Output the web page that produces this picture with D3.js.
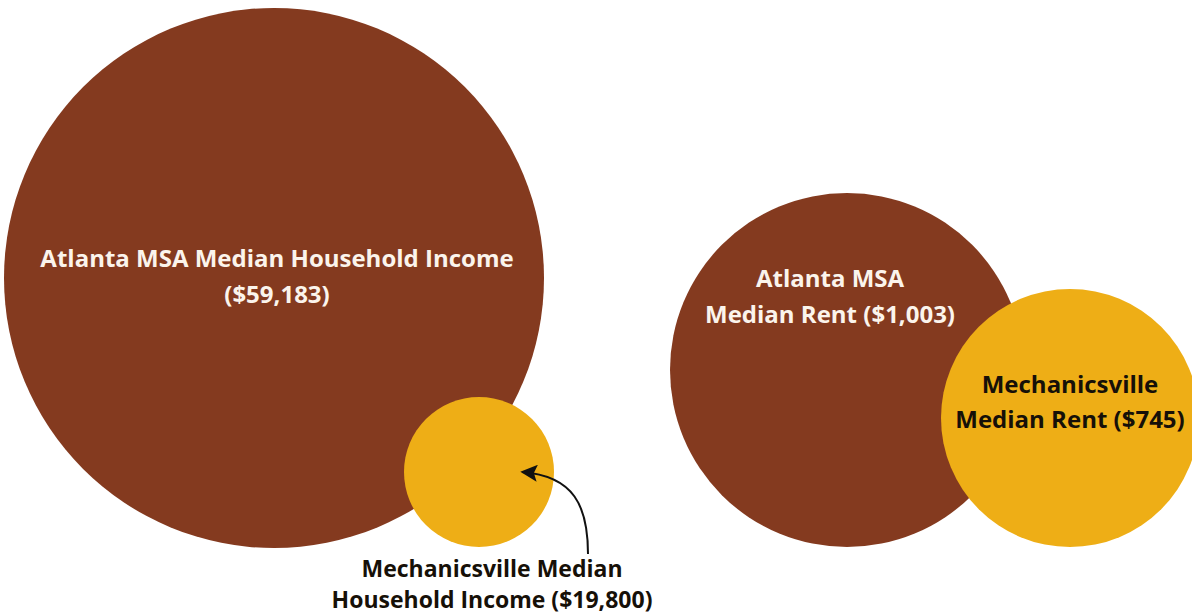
<!DOCTYPE html>
<html>
<head>
<meta charset="utf-8">
<script src="https://cdn.jsdelivr.net/npm/d3@7"></script>
<style>
  body { margin: 0; background: #fff; }
  svg { display: block; }
  .lbl { font-family: "Open Sans", sans-serif; font-weight: 700; text-anchor: middle; font-size: 24px; }
</style>
</head>
<body>
<div id="chart"></div>
<script>
// Data
var groups = ["Median Household Income", "Median Rent"];
var places = ["Atlanta MSA", "Mechanicsville"];
var incomeValues = [59183, 19800];
var rentValues = [1003, 745];
var incomeLabels = [
  ["Atlanta MSA Median Household Income", "($59,183)"],
  ["Mechanicsville Median", "Household Income ($19,800)"]
];
var rentLabels = [
  ["Atlanta MSA", "Median Rent ($1,003)"],
  ["Mechanicsville", "Median Rent ($745)"]
];

var width = 1192, height = 616;
var brown = "#843a1f", gold = "#eeae16";
var light = "#fbf4ec", dark = "#161008";

var svg = d3.select("#chart").append("svg")
  .attr("width", width)
  .attr("height", height);

// arrow head marker
svg.append("defs").append("marker")
  .attr("id", "head")
  .attr("viewBox", "0 0 10 10")
  .attr("refX", 9).attr("refY", 5)
  .attr("markerWidth", 17).attr("markerHeight", 17)
  .attr("markerUnits", "userSpaceOnUse")
  .attr("orient", "auto")
  .append("path")
  .attr("d", "M0,0 L10,5 L0,10 L2,5 Z")
  .attr("fill", "#111");

// radius scales, one per panel
var rIncome = d3.scaleLinear().domain(d3.extent(incomeValues)).range([75, 270]);
var rRent = d3.scaleLinear().domain(d3.extent(rentValues)).range([129, 177]);

function twoLines(g, lines, x, y, dy, fill, size) {
  lines.forEach(function(t, i) {
    var txt = g.append("text").attr("class", "lbl")
      .attr("x", x).attr("y", y + i * dy)
      .attr("fill", fill)
      .text(t);
    if (size) txt.style("font-size", size + "px");
  });
}

// ---- Panel 1: income ----
var p1 = svg.append("g").attr("class", "income");
var c1 = [274, 278];
var c1s = [479, 472];

p1.append("circle")
  .attr("cx", c1[0]).attr("cy", c1[1]).attr("r", rIncome(incomeValues[0]))
  .attr("fill", brown);
p1.append("circle")
  .attr("cx", c1s[0]).attr("cy", c1s[1]).attr("r", rIncome(incomeValues[1]))
  .attr("fill", gold);

twoLines(p1, incomeLabels[0], 277, 267, 36, light);
// callout text under the small circle
twoLines(p1, incomeLabels[1], 492, 577, 31, dark, 23);

// curved arrow pointing into small circle
var arrow = d3.path();
arrow.moveTo(588, 554);
arrow.bezierCurveTo(588, 506, 574, 476, 522, 472);
p1.append("path")
  .attr("d", arrow.toString())
  .attr("fill", "none")
  .attr("stroke", "#111")
  .attr("stroke-width", 2)
  .attr("marker-end", "url(#head)");

// ---- Panel 2: rent ----
var p2 = svg.append("g").attr("class", "rent");
var c2 = [847, 370];
var c2s = [1070, 418];

p2.append("circle")
  .attr("cx", c2[0]).attr("cy", c2[1]).attr("r", rRent(rentValues[0]))
  .attr("fill", brown);
p2.append("circle")
  .attr("cx", c2s[0]).attr("cy", c2s[1]).attr("r", rRent(rentValues[1]))
  .attr("fill", gold);

twoLines(p2, rentLabels[0], 830, 287, 36, light);
twoLines(p2, rentLabels[1], 1070, 393, 35, dark);
</script>
</body>
</html>
